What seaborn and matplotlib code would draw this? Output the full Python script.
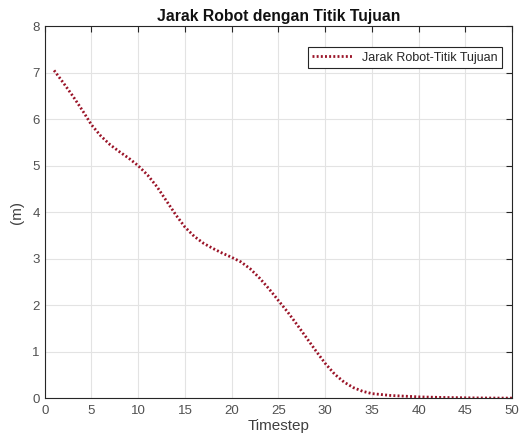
import pandas as pd
import matplotlib.pyplot as plt
import seaborn as sns

# Distance between robot and target point per timestep
timestep = list(range(1, 51))
jarak = [
    7.05, 6.78, 6.50, 6.20, 5.88, 5.64, 5.45, 5.30, 5.16, 5.00,
    4.80, 4.55, 4.25, 3.95, 3.68, 3.48, 3.33, 3.22, 3.12, 3.03,
    2.93, 2.78, 2.58, 2.35, 2.10, 1.85, 1.58, 1.30, 1.02, 0.75,
    0.52, 0.35, 0.23, 0.15, 0.10, 0.08, 0.06, 0.05, 0.04, 0.03,
    0.025, 0.02, 0.016, 0.013, 0.01, 0.008, 0.006, 0.005, 0.004, 0.003,
]
x_ticks = [0, 5, 10, 15, 20, 25, 30, 35, 40, 45, 50]
y_ticks = [0, 1, 2, 3, 4, 5, 6, 7, 8]

df = pd.DataFrame({"Timestep": timestep, "Jarak": jarak})

sns.set_style("whitegrid")
plt.rcParams["font.family"] = ["Liberation Sans", "DejaVu Sans"]

fig = plt.figure(figsize=(5.2, 4.44), dpi=100)
ax = fig.add_axes([0.086, 0.103, 0.899, 0.838])

sns.lineplot(
    data=df, x="Timestep", y="Jarak", ax=ax,
    color="#9a1428", linewidth=2.0, dashes=False,
    label="Jarak Robot-Titik Tujuan",
)
ax.lines[0].set_dashes([0.7, 0.8])

ax.set_xlim(0, 50)
ax.set_ylim(0, 8)
ax.set_xticks(x_ticks)
ax.set_yticks(y_ticks)

# MATLAB-like box and grid
ax.grid(True, color="#e3e3e3", linewidth=0.8)
for side in ax.spines.values():
    side.set_visible(True)
    side.set_color("#262626")
    side.set_linewidth(0.8)
ax.tick_params(direction="in", length=4, width=0.8, color="#262626",
               labelcolor="#505050", labelsize=9.5,
               top=True, right=True, labeltop=False, labelright=False)
ax.tick_params(axis="x", pad=5)

ax.set_title("Jarak Robot dengan Titik Tujuan", fontsize=11.3, fontweight="bold",
             pad=4, color="#111111")
ax.set_xlabel("Timestep", fontsize=11, color="#404040", labelpad=1)
ax.set_ylabel("(m)", fontsize=11, color="#404040", labelpad=6)

leg = ax.legend(loc="upper right", bbox_to_anchor=(0.978, 0.943), fontsize=9,
                frameon=True, fancybox=False, handlelength=3.2,
                borderaxespad=0, borderpad=0.35)
leg.get_frame().set_edgecolor("#262626")
leg.get_frame().set_linewidth(0.8)
leg.get_frame().set_alpha(1)
leg.get_lines()[0].set_dashes([0.7, 0.8])

fig.savefig("out.png", dpi=100)
